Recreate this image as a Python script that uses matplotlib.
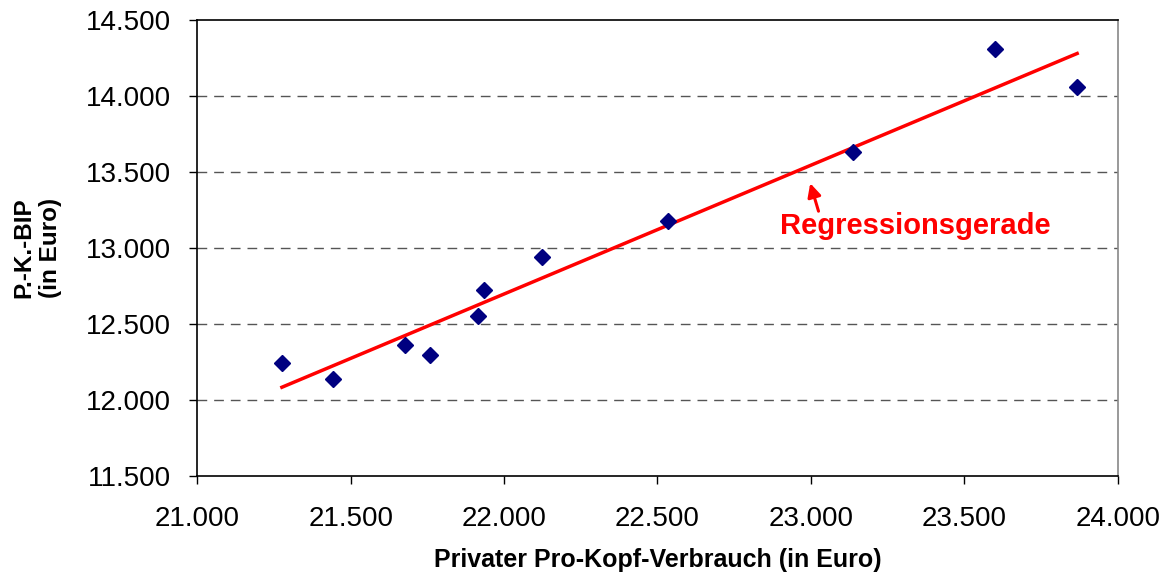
import numpy as np
import matplotlib
matplotlib.use("Agg")
import matplotlib.pyplot as plt
from matplotlib.ticker import FuncFormatter

# private consumption per capita (x) vs. per-capita GDP (y), in Euro
verbrauch = [21276, 21441, 21677, 21758, 21916, 21935, 22124, 22534, 23136, 23600, 23868]
bip = [12246, 12136, 12358, 12296, 12553, 12722, 12941, 13180, 13632, 14310, 14059]

x_ticks = [21000, 21500, 22000, 22500, 23000, 23500, 24000]
y_ticks = [11500, 12000, 12500, 13000, 13500, 14000, 14500]

plt.rcParams['font.family'] = ['Liberation Sans', 'DejaVu Sans']

fig = plt.figure(figsize=(11.74, 5.74), dpi=100)
ax = fig.add_axes([0.168, 0.171, 0.784, 0.794])

ax.plot(verbrauch, bip, 'D', color='#000080', ms=8, zorder=3)

# least squares line over the data range
slope, icpt = np.polyfit(verbrauch, bip, 1)
xs = np.array([min(verbrauch), max(verbrauch)])
ax.plot(xs, slope * xs + icpt, color='red', lw=2.5, zorder=2)

ax.set_xlim(21000, 24000)
ax.set_ylim(11500, 14500)
ax.set_xticks(x_ticks)
ax.set_yticks(y_ticks)
fmt = FuncFormatter(lambda v, p: f"{int(v):,}".replace(",", "."))
ax.xaxis.set_major_formatter(fmt)
ax.yaxis.set_major_formatter(fmt)
ax.tick_params(labelsize=20, length=6, width=1, color='black', direction='out')
ax.tick_params(axis='x', pad=16)
ax.tick_params(axis='y', pad=13)

for g in y_ticks[1:-1]:
    ax.axhline(g, color='#555555', lw=1, ls=(0, (7, 5)), zorder=1)

for s in ['left', 'bottom', 'top']:
    ax.spines[s].set_color('black')
    ax.spines[s].set_linewidth(1.2)
ax.spines['right'].set_color('#888888')
ax.spines['right'].set_linewidth(1.2)

ax.set_xlabel("Privater Pro-Kopf-Verbrauch (in Euro)", fontsize=18, fontweight='bold', labelpad=11)
ax.set_ylabel("P.-K.-BIP\n(in Euro)", fontsize=17.5, fontweight='bold', labelpad=17)

ax.text(23340, 13143, "Regressionsgerade", color='red', fontsize=21,
        fontweight='bold', ha='center', va='center')
ax.annotate("", xy=(22998, 13426), xytext=(23025, 13242),
            arrowprops=dict(arrowstyle='-|>', color='red', lw=2.2, mutation_scale=20,
                            shrinkA=0, shrinkB=0))

fig.savefig("out.png", dpi=100)
